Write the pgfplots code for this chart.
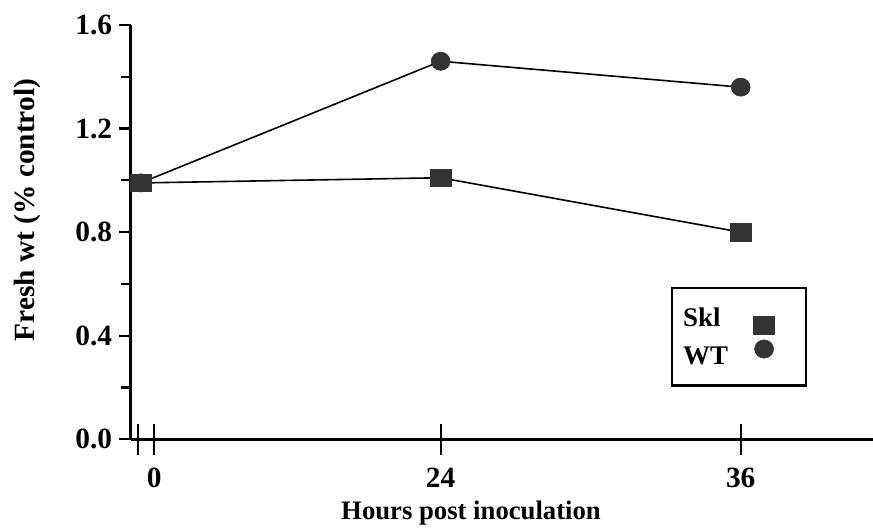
\documentclass[border=0pt]{standalone}
\usepackage{fontspec}
\setmainfont{Liberation Serif}
\usepackage{pgfplots}
\pgfplotsset{compat=1.18}
\definecolor{mk}{HTML}{333333}
\begin{document}
\begin{tikzpicture}[x=1bp,y=1bp]
\path[use as bounding box] (0,0) rectangle (873,531);
\begin{axis}[
  at={(130.7bp,91.7bp)}, anchor=south west,
  scale only axis, width=742.3bp, height=414.3bp,
  xmin=-0.033, xmax=2.441, ymin=0, ymax=1.6,
  axis lines*=left,
  axis line style={line width=2.6bp, black},
  /pgf/number format/assume math mode=true,
  ytick={0,0.4,0.8,1.2,1.6},
  minor ytick={0.2,0.6,1.0,1.4},
  yticklabel style={xshift=-3bp, /pgf/number format/.cd, fixed, fixed zerofill, precision=1},
  ytick align=outside,
  major tick length=12bp, minor tick length=10bp,
  tick style={line width=2.2bp, black},
  xtick=\empty,
  extra x ticks={-0.008,0.045,1,2},
  extra x tick labels={,0,24,36},
  extra x tick style={major tick length=31bp, tick align=center, xticklabel style={yshift=-10bp}},
  ticklabel style={font=\bfseries\fontsize{29.5}{29.5}\selectfont},
  xlabel={Hours post inoculation},
  xlabel style={at={(axis description cs:0.4585,-0.1948)}, anchor=base, font=\bfseries\fontsize{26.8}{26.8}\selectfont, inner sep=0pt},
  ylabel={Fresh wt (\% control)},
  ylabel style={at={(axis description cs:-0.139,0.553)}, anchor=center, font=\bfseries\fontsize{29.5}{29.5}\selectfont, inner sep=0pt},
  reverse legend,
  legend style={at={(axis description cs:0.7279,0.3676)}, anchor=north west,
    draw=black, line width=2.4bp, fill=white,
    font=\bfseries\fontsize{27}{27}\selectfont,
    inner xsep=9bp, inner ysep=18bp, row sep=6bp,
    nodes={inner sep=2bp}},
  legend cell align=left,
  legend plot pos=right,
]
\addplot[line width=1.6bp, black, mark=*, mark size=9.5bp,
  mark options={fill=mk, draw=mk, line width=0.5bp, yscale=0.96},
  legend image code/.code={\path[draw=none] (0bp,0bp) -- (67bp,0bp); \path[draw=mk, fill=mk, line width=0.5bp] plot[mark=*, mark size=9.5bp, mark options={yscale=0.96}, only marks] coordinates {(34bp,7bp)};}]
  coordinates {(0,0.99) (1,1.46) (2,1.36)};
\addlegendentry{WT}
\addplot[line width=1.6bp, black, mark=square*, mark size=10.5bp,
  mark options={fill=mk, draw=mk, line width=0.5bp, yscale=0.82},
  legend image code/.code={\path[draw=none] (0bp,0bp) -- (67bp,0bp); \path[draw=mk, fill=mk, line width=0.5bp] plot[mark=square*, mark size=10.5bp, mark options={yscale=0.82}, only marks] coordinates {(34bp,-7bp)};}]
  coordinates {(0,0.99) (1,1.01) (2,0.80)};
\addlegendentry{Skl}
\end{axis}
\end{tikzpicture}
\end{document}
